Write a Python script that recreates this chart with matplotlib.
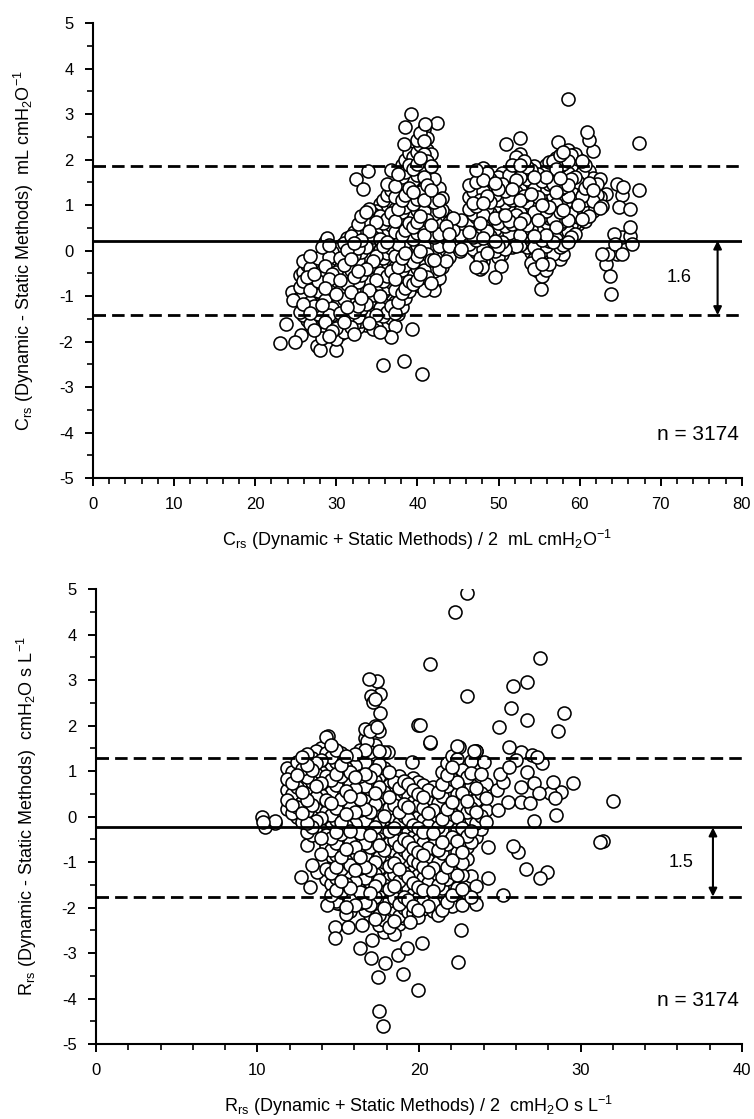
import numpy as np
import matplotlib
matplotlib.use('Agg')
import matplotlib.pyplot as plt
from matplotlib.ticker import MultipleLocator

plt.rcParams['font.family'] = ['Liberation Sans', 'DejaVu Sans']
plt.rcParams['mathtext.fontset'] = 'custom'
plt.rcParams['mathtext.rm'] = 'Liberation Sans'
plt.rcParams['mathtext.default'] = 'regular'
plt.rcParams['axes.unicode_minus'] = False

# ---- Crs panel: dense cloud read column by column (x, list of y) ----
crs_cols = [
    (25.5, [-0.53, -0.81, -1.02, -1.34]),
    (25.9, [-0.22, -0.47, -0.66, -0.93, -1.18, -1.41]),
    (26.4, [-0.31, -0.58, -0.79, -1.07, -1.26, -1.53]),
    (26.8, [-0.12, -0.38, -0.62, -0.86, -1.13, -1.37, -1.61]),
    (27.3, [-0.24, -0.51, -0.72, -0.97, -1.21, -1.48, -1.74]),
    (27.7, [-0.17, -0.42, -0.68, -0.89, -1.16, -1.39, -1.63]),
    (28.2, [0.07, -0.19, -0.44, -0.71, -0.95, -1.2, -1.46, -1.69, -1.93]),
    (28.6, [0.18, -0.08, -0.33, -0.57, -0.82, -1.08, -1.31, -1.57, -1.82]),
    (29.1, [0.12, -0.14, -0.41, -0.63, -0.9, -1.14, -1.41, -1.66, -1.88]),
    (29.5, [-0.03, -0.27, -0.52, -0.78, -1.01, -1.27, -1.52, -1.76]),
    (30.0, [0.04, -0.21, -0.47, -0.69, -0.96, -1.22, -1.44, -1.71, -1.95]),
    (30.4, [0.09, -0.16, -0.39, -0.64, -0.88, -1.12, -1.38, -1.63, -1.84]),
    (30.9, [0.16, -0.07, -0.32, -0.58, -0.83, -1.06, -1.33, -1.57, -1.79]),
    (31.3, [0.27, 0.02, -0.24, -0.48, -0.74, -0.99, -1.23, -1.49, -1.72]),
    (31.8, [0.33, 0.08, -0.18, -0.43, -0.67, -0.92, -1.17, -1.42, -1.68]),
    (32.2, [0.41, 0.17, -0.09, -0.35, -0.59, -0.84, -1.1, -1.34, -1.61, -1.83]),
    (32.7, [0.58, 0.31, 0.06, -0.2, -0.45, -0.7, -0.96, -1.21, -1.46, -1.69]),
    (33.1, [0.76, 0.49, 0.23, -0.03, -0.27, -0.53, -0.78, -1.04, -1.29, -1.55]),
    (33.6, [0.84, 0.59, 0.34, 0.08, -0.16, -0.41, -0.67, -0.93, -1.17, -1.43, -1.64]),
    (34.0, [0.92, 0.67, 0.42, 0.16, -0.09, -0.36, -0.61, -0.87, -1.12, -1.37, -1.59]),
    (34.5, [0.81, 0.55, 0.29, 0.04, -0.22, -0.47, -0.73, -0.98, -1.24, -1.49, -1.73]),
    (34.9, [0.88, 0.63, 0.38, 0.12, -0.13, -0.39, -0.64, -0.9, -1.15, -1.41, -1.66]),
    (35.4, [1.03, 0.77, 0.51, 0.26, 0.01, -0.25, -0.5, -0.76, -1.01, -1.27, -1.52, -1.78]),
    (35.8, [1.12, 0.86, 0.61, 0.35, 0.1, -0.16, -0.41, -0.67, -0.92, -1.18, -1.44, -1.69]),
    (36.3, [1.47, 1.21, 0.96, 0.7, 0.45, 0.19, -0.06, -0.32, -0.57, -0.83, -1.08, -1.34, -1.62]),
    (36.7, [1.78, 1.34, 1.08, 0.83, 0.57, 0.32, 0.06, -0.19, -0.45, -0.7, -0.96, -1.22, -1.49]),
    (37.2, [1.42, 1.17, 0.91, 0.66, 0.4, 0.15, -0.11, -0.36, -0.62, -0.87, -1.13, -1.38, -1.66]),
    (37.6, [1.68, 1.43, 1.17, 0.92, 0.66, 0.41, 0.15, -0.1, -0.36, -0.61, -0.87, -1.12, -1.4]),
    (38.1, [1.87, 1.61, 1.36, 1.1, 0.85, 0.59, 0.34, 0.08, -0.17, -0.43, -0.68, -0.94, -1.24]),
    (38.5, [1.98, 1.72, 1.47, 1.21, 0.96, 0.7, 0.45, 0.19, -0.06, -0.32, -0.57, -0.83, -1.05]),
    (39.0, [2.14, 1.88, 1.63, 1.37, 1.12, 0.86, 0.61, 0.35, 0.1, -0.16, -0.41, -0.67, -0.9]),
    (39.4, [2.05, 1.79, 1.54, 1.28, 1.03, 0.77, 0.52, 0.26, 0.01, -0.25, -0.5, -0.74]),
    (39.9, [2.42, 2.16, 1.91, 1.65, 1.4, 1.14, 0.89, 0.63, 0.38, 0.12, -0.13, -0.39, -0.64]),
    (40.3, [2.58, 2.31, 2.04, 1.79, 1.53, 1.28, 1.02, 0.77, 0.51, 0.26, 0.0, -0.25, -0.51, -0.78]),
    (40.8, [2.68, 2.4, 2.13, 1.88, 1.62, 1.37, 1.11, 0.86, 0.6, 0.35, 0.09, -0.16, -0.42, -0.67, -0.86]),
    (41.2, [2.47, 2.21, 1.96, 1.7, 1.45, 1.19, 0.94, 0.68, 0.43, 0.17, -0.08, -0.34, -0.59, -0.83]),
    (41.7, [2.12, 1.86, 1.59, 1.33, 1.08, 0.82, 0.57, 0.31, 0.06, -0.2, -0.45, -0.71]),
    (42.1, [1.58, 1.32, 1.07, 0.81, 0.56, 0.3, 0.05, -0.21, -0.46, -0.72, -0.87]),
    (42.6, [1.38, 1.12, 0.87, 0.61, 0.36, 0.1, -0.15, -0.41, -0.6]),
    (43.0, [1.16, 0.9, 0.65, 0.39, 0.14, -0.12, -0.37]),
    (43.5, [0.79, 0.53, 0.28, 0.02, -0.23]),
    (43.9, [0.62, 0.36, 0.11, -0.15]),
    (44.4, [0.71, 0.46, 0.2]),
    (45.4, [0.68, 0.31, 0.04]),
    (46.3, [1.43, 1.17, 0.92, 0.66, 0.41, 0.15]),
    (46.8, [1.31, 1.05, 0.8, 0.54, 0.29, 0.03]),
    (47.2, [1.76, 1.5, 1.25, 0.99, 0.74, 0.48, 0.23, -0.03, -0.36]),
    (47.7, [1.62, 1.36, 1.11, 0.85, 0.6, 0.34, 0.09, -0.17, -0.41]),
    (48.1, [1.81, 1.56, 1.3, 1.05, 0.79, 0.54, 0.28, 0.03, -0.24]),
    (48.6, [1.7, 1.44, 1.19, 0.93, 0.68, 0.42, 0.17, -0.06]),
    (49.0, [1.58, 1.33, 1.07, 0.82, 0.56, 0.31, 0.05]),
    (49.5, [1.49, 1.23, 0.98, 0.72, 0.47, 0.21, -0.02]),
    (49.9, [1.62, 1.36, 1.11, 0.85, 0.6, 0.34, 0.09, -0.14]),
    (50.4, [1.71, 1.46, 1.2, 0.95, 0.69, 0.44, 0.18, -0.07]),
    (50.8, [1.56, 1.3, 1.05, 0.79, 0.54, 0.28, 0.03]),
    (51.3, [1.67, 1.41, 1.16, 0.9, 0.65, 0.39, 0.14]),
    (51.7, [1.87, 1.61, 1.36, 1.1, 0.85, 0.59, 0.34, 0.08]),
    (52.2, [2.06, 1.8, 1.55, 1.29, 1.04, 0.78, 0.53, 0.27, 0.09]),
    (52.6, [2.13, 1.88, 1.62, 1.37, 1.11, 0.86, 0.6, 0.35, 0.12]),
    (53.1, [1.97, 1.71, 1.46, 1.2, 0.95, 0.69, 0.44, 0.18]),
    (53.5, [1.84, 1.58, 1.33, 1.07, 0.82, 0.56, 0.31, 0.07]),
    (54.0, [1.76, 1.5, 1.25, 0.99, 0.74, 0.48, 0.23, -0.03, -0.27]),
    (54.4, [1.86, 1.61, 1.35, 1.1, 0.84, 0.59, 0.33, 0.08, -0.18, -0.41]),
    (54.9, [1.69, 1.43, 1.18, 0.92, 0.67, 0.41, 0.16, -0.1, -0.44]),
    (55.3, [1.77, 1.52, 1.26, 1.01, 0.75, 0.5, 0.24, -0.01, -0.29, -0.56]),
    (55.8, [1.88, 1.62, 1.37, 1.11, 0.86, 0.6, 0.35, 0.09, -0.16, -0.42]),
    (56.2, [1.94, 1.73, 1.47, 1.22, 0.96, 0.71, 0.45, 0.2, -0.06, -0.3]),
    (56.7, [1.97, 1.71, 1.46, 1.2, 0.95, 0.69, 0.44, 0.18, -0.07]),
    (57.1, [2.04, 1.79, 1.53, 1.28, 1.02, 0.77, 0.51, 0.26, 0.02]),
    (57.6, [2.11, 1.86, 1.6, 1.35, 1.09, 0.84, 0.58, 0.33, 0.07, -0.19]),
    (58.0, [2.17, 1.91, 1.66, 1.4, 1.15, 0.89, 0.64, 0.38, 0.13, -0.08]),
    (58.5, [2.21, 1.96, 1.7, 1.45, 1.19, 0.94, 0.68, 0.43, 0.19]),
    (58.9, [2.09, 1.83, 1.58, 1.32, 1.07, 0.81, 0.56, 0.3]),
    (59.4, [2.13, 1.88, 1.62, 1.37, 1.11, 0.86, 0.6, 0.37]),
    (59.8, [2.02, 1.76, 1.51, 1.25, 1.0, 0.74, 0.58]),
    (60.3, [1.96, 1.71, 1.45, 1.2, 0.94, 0.69]),
    (60.7, [1.89, 1.63, 1.38, 1.12, 0.87, 0.64]),
    (61.2, [1.74, 1.48, 1.23, 0.97, 0.76]),
    (61.6, [1.59, 1.34, 1.08, 0.88]),
    (62.1, [1.47, 1.21, 0.98]),
    (62.5, [1.58, 1.18, 0.94]),
]
crs_sparse_x = [39.2, 38.5, 40.9, 42.4, 38.3, 33.9, 32.4, 33.3, 28.9, 24.5, 24.7, 23.8, 23.0,
                24.9, 25.6, 28.0, 30.0, 35.8, 38.3, 40.5, 39.3, 36.8, 27.6, 45.3,
                58.6, 60.9, 61.2, 61.6, 67.3, 50.9, 52.7, 57.3, 67.3, 63.8, 63.7, 63.3,
                62.7, 55.2, 49.6, 50.3, 47.7, 48.0, 64.2, 65.2, 66.2, 66.2, 66.5, 64.4,
                64.6, 65.2, 63.5, 64.6, 65.4, 65.2, 66.2, 64.8, 63.3, 62.7]
crs_sparse_y = [3.01, 2.71, 2.79, 2.80, 2.35, 1.75, 1.58, 1.36, 0.27, -0.91, -1.08, -1.61, -2.03,
                -2.02, -1.86, -2.18, -2.18, -2.51, -2.43, -2.72, -1.72, -1.91, -2.1, 0.0,
                3.32, 2.60, 2.44, 2.18, 2.36, 2.35, 2.48, 2.39, 1.34, -0.95, -0.56, -0.30,
                -0.07, -0.84, -0.58, -0.33, -0.25, -0.36, 0.37, 0.30, 0.52, 0.33, 0.15, 0.15,
                -0.07, -0.07, -0.07, 1.47, 1.40, 1.21, 0.92, 0.96, 1.25, 0.99]
crs_mean, crs_upper, crs_lower = 0.22, 1.86, -1.42

# ---- Rrs panel ----
rrs_cols = [
    (11.85, [1.06, 0.83, 0.58, 0.37, 0.17]),
    (12.15, [0.97, 0.74, 0.49, 0.26, 0.08]),
    (12.45, [1.19, 0.92, 0.66, 0.43, 0.21, -0.02]),
    (12.75, [1.31, 1.04, 0.79, 0.54, 0.31, 0.07, -0.13]),
    (13.05, [1.38, 1.13, 0.87, 0.62, 0.37, 0.12, -0.14, -0.33]),
    (13.35, [1.29, 1.02, 0.76, 0.51, 0.26, 0.0, -0.24, -0.41]),
    (13.65, [1.43, 1.18, 0.93, 0.67, 0.42, 0.16, -0.09, -0.35]),
    (13.95, [1.51, 1.24, 0.98, 0.73, 0.47, 0.22, -0.04, -0.29, -0.47, -0.82, -1.03]),
    (14.25, [1.74, 1.39, 1.13, 0.88, 0.62, 0.37, 0.11, -0.14, -0.4, -0.65, -0.91, -1.16, -1.38]),
    (14.55, [1.57, 1.31, 1.06, 0.8, 0.55, 0.29, 0.04, -0.22, -0.47, -0.73, -0.98, -1.24, -1.49, -1.72]),
    (14.85, [1.46, 1.2, 0.94, 0.69, 0.43, 0.18, -0.08, -0.33, -0.59, -0.84, -1.1, -1.35, -1.61, -1.86]),
    (15.15, [1.4, 1.14, 0.89, 0.63, 0.38, 0.12, -0.13, -0.39, -0.64, -0.9, -1.15, -1.41, -1.66, -1.92]),
    (15.45, [1.33, 1.07, 0.82, 0.56, 0.31, 0.05, -0.2, -0.46, -0.71, -0.97, -1.22, -1.48, -1.73, -1.99, -2.14]),
    (15.75, [1.22, 0.97, 0.71, 0.46, 0.2, -0.05, -0.31, -0.56, -0.82, -1.07, -1.33, -1.58, -1.84, -2.08]),
    (16.05, [1.37, 1.11, 0.86, 0.6, 0.35, 0.09, -0.16, -0.42, -0.67, -0.93, -1.18, -1.44, -1.69, -1.95]),
    (16.35, [1.46, 1.16, 0.9, 0.65, 0.39, 0.14, -0.12, -0.37, -0.63, -0.88, -1.14, -1.39, -1.65, -1.9]),
    (16.65, [1.73, 1.47, 1.19, 0.94, 0.68, 0.43, 0.17, -0.08, -0.34, -0.59, -0.85, -1.1, -1.36, -1.61, -1.87, -2.06]),
    (16.95, [1.88, 1.42, 1.12, 0.86, 0.61, 0.35, 0.1, -0.16, -0.41, -0.67, -0.92, -1.18, -1.43, -1.69, -1.94, -2.17]),
    (17.25, [1.99, 1.57, 1.29, 1.03, 0.78, 0.52, 0.27, 0.01, -0.24, -0.5, -0.75, -1.01, -1.26, -1.52, -1.77, -2.03, -2.26]),
    (17.55, [1.87, 1.43, 1.16, 0.9, 0.65, 0.39, 0.14, -0.12, -0.37, -0.63, -0.88, -1.14, -1.39, -1.65, -1.9, -2.16, -2.38]),
    (17.85, [1.41, 1.06, 0.79, 0.53, 0.28, 0.02, -0.23, -0.49, -0.74, -1.0, -1.25, -1.51, -1.76, -2.02, -2.27, -2.53]),
    (18.15, [0.98, 0.7, 0.44, 0.19, -0.07, -0.32, -0.58, -0.83, -1.09, -1.34, -1.6, -1.85, -2.11, -2.42]),
    (18.45, [0.77, 0.51, 0.26, 0.0, -0.25, -0.51, -0.76, -1.02, -1.27, -1.53, -1.78, -2.04, -2.29, -2.58]),
    (18.75, [0.88, 0.62, 0.37, 0.11, -0.14, -0.4, -0.65, -0.91, -1.16, -1.42, -1.67, -1.93, -2.18, -2.36]),
    (19.05, [0.79, 0.53, 0.28, 0.02, -0.23, -0.49, -0.74, -1.0, -1.25, -1.51, -1.76, -2.02, -2.24]),
    (19.35, [0.71, 0.45, 0.2, -0.06, -0.31, -0.57, -0.82, -1.08, -1.33, -1.59, -1.84, -2.1]),
    (19.65, [0.84, 0.58, 0.33, 0.07, -0.18, -0.44, -0.69, -0.95, -1.2, -1.46, -1.71, -1.97, -2.13]),
    (19.95, [0.76, 0.5, 0.25, -0.01, -0.26, -0.52, -0.77, -1.03, -1.28, -1.54, -1.79, -2.05, -2.21]),
    (20.25, [0.69, 0.43, 0.18, -0.08, -0.33, -0.59, -0.84, -1.1, -1.35, -1.61, -1.86, -2.04]),
    (20.55, [0.58, 0.32, 0.07, -0.19, -0.44, -0.7, -0.95, -1.21, -1.46, -1.72, -1.97]),
    (20.85, [0.66, 0.4, 0.15, -0.11, -0.36, -0.62, -0.87, -1.13, -1.38, -1.64, -1.89, -2.07]),
    (21.15, [0.54, 0.29, 0.03, -0.22, -0.48, -0.73, -0.99, -1.24, -1.5, -1.75, -2.01, -2.16]),
    (21.45, [0.97, 0.72, 0.46, 0.21, -0.05, -0.3, -0.56, -0.81, -1.07, -1.32, -1.58, -1.83, -2.06]),
    (21.75, [1.18, 0.92, 0.67, 0.41, 0.16, -0.1, -0.35, -0.61, -0.86, -1.12, -1.37, -1.63, -1.88]),
    (22.05, [1.33, 1.08, 0.82, 0.57, 0.31, 0.06, -0.2, -0.45, -0.71, -0.96, -1.22, -1.47, -1.73, -1.96]),
    (22.35, [1.54, 1.26, 1.0, 0.75, 0.49, 0.24, -0.02, -0.27, -0.53, -0.78, -1.04, -1.29, -1.56, -1.88]),
    (22.65, [1.02, 0.76, 0.51, 0.25, 0.0, -0.26, -0.51, -0.77, -1.02, -1.28, -1.6, -1.94]),
    (22.95, [1.11, 0.86, 0.6, 0.35, 0.09, -0.16, -0.42, -0.67, -0.93, -1.68]),
    (23.25, [1.21, 0.96, 0.7, 0.45, 0.19, -0.06, -0.32, -0.57, -1.31, -1.77]),
    (23.55, [1.44, 1.03, 0.62, 0.36, 0.11, -0.15, -0.44, -1.52, -1.93]),
    (23.85, [0.93, 0.52, 0.26, 0.01, -0.28]),
    (24.15, [0.71, 0.41, 0.15, -0.12]),
]
rrs_sparse_x = [22.95, 22.2, 20.7, 27.5, 25.8, 26.7, 23.0, 25.7, 29.0, 26.7, 24.95, 28.6, 20.06,
                20.7, 32.0, 31.2, 31.4, 24.3, 25.8, 26.1, 26.6, 27.5, 27.9, 24.25, 25.2, 27.1,
                28.5, 22.5, 23.4, 25.6, 26.3, 27.0, 27.6, 29.55, 28.3, 28.1, 27.4, 26.9, 26.3,
                27.1, 26.7, 25.6, 25.0, 24.8, 25.5, 24.9,
                10.36, 11.08, 10.47, 10.3, 11.1,
                13.05, 12.67, 13.24, 13.35, 13.66, 14.28, 14.28, 14.9, 14.8, 14.8, 15.6, 16.45,
                16.35, 17.07, 17.0, 17.44, 17.89, 18.72, 19.03, 19.24, 19.96, 20.17, 19.45,
                17.5, 17.75, 22.4, 22.6,
                14.38, 16.65, 17.38, 16.76, 17.59, 17.17, 16.9, 17.4, 17.0, 17.6, 17.25, 19.96,
                20.68, 19.55, 18.1, 23.5, 24.0, 26.0, 27.3, 28.4, 28.8, 26.3, 25.2]
rrs_sparse_y = [4.91, 4.50, 3.36, 3.48, 2.87, 2.96, 2.66, 2.38, 2.28, 2.12, 1.97, 1.87, 2.01,
                1.63, 0.34, -0.55, -0.54, -0.66, -0.64, -0.79, -1.16, -1.36, -1.22, -1.36, -1.73, -0.10,
                0.03, 1.53, 1.44, 1.53, 1.42, 1.35, 1.17, 0.74, 0.76, 0.51, 0.51, 0.29, 0.33,
                0.73, 0.98, 1.09, 0.94, 0.58, 0.33, 0.14,
                -0.11, -0.09, -0.22, -0.02, -0.15,
                -0.63, -1.32, -1.55, -1.07, -1.21, -1.14, -1.95, -1.90, -2.42, -2.68, -2.42, -2.39,
                -2.90, -2.71, -3.12, -3.52, -3.23, -3.05, -3.45, -2.90, -3.81, -2.79, -2.31,
                -4.28, -4.6, -3.2, -2.5,
                1.77, 1.93, 1.97, 1.67, 2.27, 2.52, 3.02, 2.98, 2.65, 2.7, 2.58, 2.01,
                1.62, 1.20, 1.42, 1.45, 1.2, 1.25, 1.3, 0.4, 0.55, 0.65, 0.75]
rrs_mean, rrs_upper, rrs_lower = -0.24, 1.28, -1.76


def flatten(cols, sx, sy):
    xs, ys = [], []
    for x, yy in cols:
        xs += [x] * len(yy)
        ys += list(yy)
    x = np.array(xs + list(sx))
    y = np.array(ys + list(sy))
    # mix the drawing order so overlapping circles stack irregularly
    order = np.argsort((np.arange(len(x)) * 0.6180339887) % 1.0)
    return x[order], y[order]


def panel(ax, cols, sx, sy, mean, upper, lower, xmax, sd_txt, arr_x, txt_x, xlabel, ylabel):
    x, y = flatten(cols, sx, sy)
    ax.scatter(x, y, s=88, facecolor='white', edgecolor='black', linewidth=1.15, zorder=2)
    ax.axhline(mean, color='black', lw=2.0, zorder=3)
    for lv in (upper, lower):
        ax.axhline(lv, color='black', lw=2.0, ls=(0, (4.5, 2.2)), zorder=3)
    ax.annotate('', xy=(arr_x, lower), xytext=(arr_x, mean),
                arrowprops=dict(arrowstyle='<|-|>', color='black', lw=1.5,
                                mutation_scale=12, shrinkA=0, shrinkB=0), zorder=4)
    ax.text(txt_x, (mean + lower) / 2, sd_txt, fontsize=13, ha='center', va='center')
    ax.text(xmax * 0.995, -4.05, 'n = 3174', fontsize=15, ha='right', va='center')
    ax.set_xlim(0, xmax)
    ax.set_ylim(-5, 5)
    ax.xaxis.set_major_locator(MultipleLocator(10))
    ax.xaxis.set_minor_locator(MultipleLocator(2))
    ax.yaxis.set_major_locator(MultipleLocator(1))
    ax.yaxis.set_minor_locator(MultipleLocator(0.5))
    ax.tick_params(which='major', length=6, width=1.4, labelsize=12, pad=8)
    ax.tick_params(which='minor', length=4, width=1.2)
    for s in ('top', 'right'):
        ax.spines[s].set_visible(False)
    for s in ('left', 'bottom'):
        ax.spines[s].set_linewidth(1.5)
    ax.set_xlabel(xlabel, fontsize=13, labelpad=11)
    ax.set_ylabel(ylabel, fontsize=13, labelpad=16)


fig = plt.figure(figsize=(7.54, 11.19), dpi=100)
ax1 = fig.add_axes([0.1233, 0.5728, 0.8607, 0.4066])
ax2 = fig.add_axes([0.1273, 0.0670, 0.8568, 0.4066])

panel(ax1, crs_cols, crs_sparse_x, crs_sparse_y, crs_mean, crs_upper, crs_lower,
      80, '1.6', 77, 72.3,
      r'$C_{rs}$ (Dynamic + Static Methods) / 2  mL cmH$_2$O$^{-1}$',
      r'$C_{rs}$ (Dynamic - Static Methods)  mL cmH$_2$O$^{-1}$')
panel(ax2, rrs_cols, rrs_sparse_x, rrs_sparse_y, rrs_mean, rrs_upper, rrs_lower,
      40, '1.5', 38.2, 36.2,
      r'$R_{rs}$ (Dynamic + Static Methods) / 2  cmH$_2$O s L$^{-1}$',
      r'$R_{rs}$ (Dynamic - Static Methods)  cmH$_2$O s L$^{-1}$')

fig.savefig('out.png', dpi=100)
